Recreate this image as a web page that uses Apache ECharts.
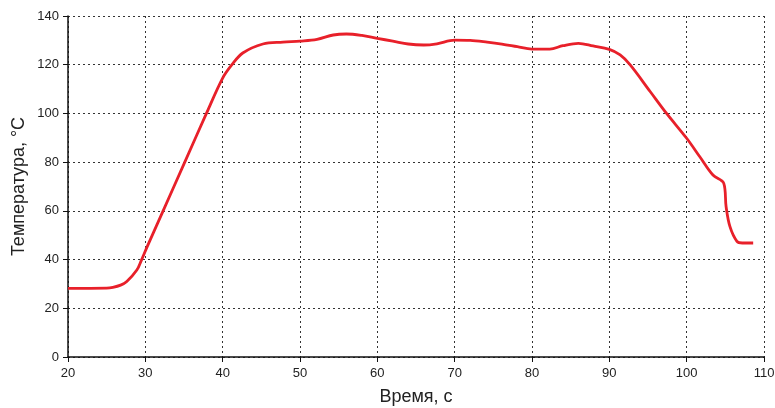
<!DOCTYPE html>
<html><head><meta charset="utf-8">
<script src="https://cdn.jsdelivr.net/npm/echarts@6/dist/echarts.min.js"></script>
<style>html,body{margin:0;padding:0;background:#fff}#c{width:775px;height:408px}</style>
</head><body><div id="c"></div>
<script>
const timeS = [20, 25, 25.8, 26.8, 27.6, 28.9, 29.5, 30.2, 32.3, 35.1, 37.9, 40, 41.2, 42.6, 45.2, 47.8, 50, 52.2, 54.3, 56, 58, 60, 62, 64, 66, 67.7, 70, 72, 74.2, 76.1, 78.1, 80, 82.3, 84, 86, 87.9, 90, 91.4, 92.7, 95.3, 97.4, 100, 101.7, 103.4, 104.8, 105.1, 105.6, 106.5, 107.2, 108.6];
const tempC = [28.2, 28.3, 28.6, 29.5, 31, 35.7, 39.8, 45, 60, 80, 100, 114.5, 120, 124.8, 128.5, 129.3, 129.7, 130.4, 132.2, 132.6, 132, 130.8, 129.7, 128.5, 128.1, 128.6, 130.1, 130, 129.3, 128.5, 127.4, 126.4, 126.4, 127.8, 128.8, 127.7, 126.3, 124, 119.9, 108.9, 100, 89.8, 82.2, 74.7, 71.3, 61.7, 53.5, 47.5, 46.8, 46.8];
const xTicks = {min: 20, max: 110, interval: 10};
const yTicks = {min: 0, max: 140, interval: 20};
const chart = echarts.init(document.getElementById('c'), null, {renderer: 'canvas'});
const gridLine = {show: true, lineStyle: {color: '#333', type: [2, 3], width: 1}};
chart.setOption({
  animation: false,
  grid: {left: 68, right: 11, top: 16, bottom: 51, containLabel: false, outerBoundsMode: 'none'},
  xAxis: {
    type: 'value', min: xTicks.min, max: xTicks.max, interval: xTicks.interval,
    name: 'Время, с', nameLocation: 'middle', nameGap: 31, nameMoveOverlap: false,
    nameTextStyle: {fontFamily: 'Liberation Sans', fontSize: 18, color: '#222'},
    axisLine: {show: true, onZero: false, lineStyle: {color: '#111', width: 1.5}},
    axisTick: {show: true, length: 5, lineStyle: {color: '#111', width: 1}},
    axisLabel: {fontFamily: 'Liberation Sans', fontSize: 13, color: '#222', margin: 10},
    splitLine: gridLine
  },
  yAxis: {
    type: 'value', min: yTicks.min, max: yTicks.max, interval: yTicks.interval,
    name: 'Температура, °C', nameLocation: 'middle', nameGap: 40, nameMoveOverlap: false,
    nameTextStyle: {fontFamily: 'Liberation Sans', fontSize: 18, color: '#222'},
    axisLine: {show: true, lineStyle: {color: '#111', width: 1.5}},
    axisTick: {show: true, length: 5, lineStyle: {color: '#111', width: 1}},
    axisLabel: {fontFamily: 'Liberation Sans', fontSize: 13, color: '#222', margin: 9},
    splitLine: gridLine
  },
  series: [{
    type: 'line', data: timeS.map((t, i) => [t, tempC[i]]),
    smooth: 0.35, showSymbol: false,
    lineStyle: {color: '#e8202a', width: 2.8}
  }]
});
</script></body></html>
